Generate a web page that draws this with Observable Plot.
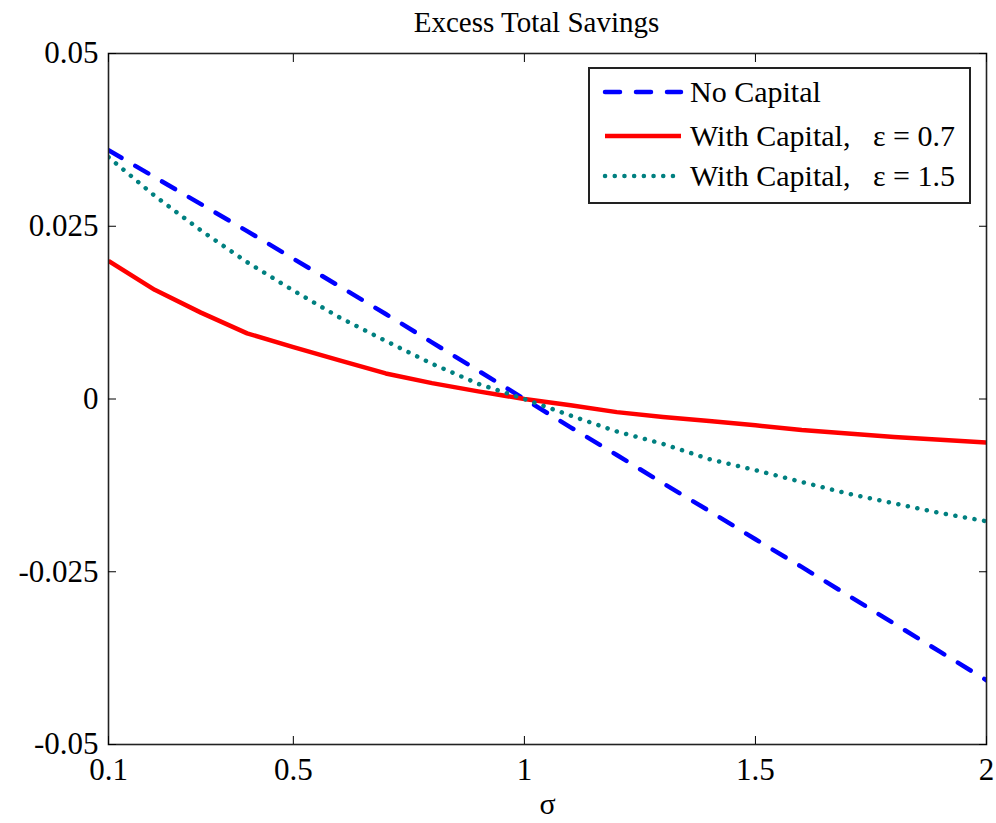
<!DOCTYPE html>
<html>
<head>
<meta charset="utf-8">
<script src="https://cdn.jsdelivr.net/npm/d3@7"></script>
<script src="https://cdn.jsdelivr.net/npm/@observablehq/plot@0.6"></script>
<style>
  body { margin: 0; background: #fff; }
  #wrap { position: relative; width: 996px; height: 823px; }
  #legend { position: absolute; left: 588px; top: 67px; width: 379px; height: 133px;
            border: 2px solid #222; background: #fff; font-family: "Liberation Serif", serif; font-size: 30px; }
  .row { position: absolute; left: 0; height: 40px; display: flex; align-items: center; white-space: pre; }
  .row span { color: #000; }
</style>
</head>
<body>
<div id="wrap"></div>
<script>
const title = "Excess Total Savings";
const xLabel = "σ";
const sigma = [0.1, 0.2, 0.3, 0.4, 0.5, 0.6, 0.7, 0.8, 0.9, 1.0, 1.1, 1.2, 1.3, 1.4, 1.5, 1.6, 1.7, 1.8, 1.9, 2.0];
const noCapital = [0.036, 0.0321, 0.0282, 0.0243, 0.0203, 0.0163, 0.0123, 0.0082, 0.0041, 0, -0.0041, -0.0081, -0.0122, -0.0162, -0.0203, -0.0243, -0.0284, -0.0325, -0.0366, -0.0407];
const withCap07 = [0.020, 0.0158, 0.0125, 0.0095, 0.0075, 0.0056, 0.0037, 0.0023, 0.0011, 0, -0.0009, -0.0019, -0.0026, -0.0032, -0.0038, -0.0045, -0.0050, -0.0055, -0.0059, -0.0063];
const withCap15 = [0.035, 0.0294, 0.0244, 0.0198, 0.0157, 0.0118, 0.0084, 0.0051, 0.0022, 0, -0.0024, -0.0047, -0.0065, -0.0087, -0.0103, -0.0120, -0.0137, -0.0151, -0.0165, -0.0177];
const seriesNames = ["No Capital", "With Capital,   ε = 0.7", "With Capital,   ε = 1.5"];
const xTicks = [0.1, 0.5, 1, 1.5, 2];
const yTicks = [-0.05, -0.025, 0, 0.025, 0.05];

const styles = [
  {stroke: "#0000ff", strokeWidth: 4.5, strokeDasharray: "15,16", strokeLinecap: "round"},
  {stroke: "#ff0000", strokeWidth: 4.5, strokeDasharray: null, strokeLinecap: "butt"},
  {stroke: "#008080", strokeWidth: 4.5, strokeDasharray: "0.1,9.6", strokeLinecap: "round"}
];
const seriesValues = [noCapital, withCap07, withCap15];
const rows = seriesValues.map((vals, i) => sigma.map((s, j) => ({sigma: s, value: vals[j], series: seriesNames[i]})));

const lineMarks = rows.map((data, i) => Plot.line(data, {x: "sigma", y: "value", ...styles[i], clip: true}));

const chart = Plot.plot({
  width: 996,
  height: 823,
  marginLeft: 108,
  marginRight: 10,
  marginTop: 53,
  marginBottom: 79,
  style: {fontFamily: "'Liberation Serif', serif", background: "#fff", color: "#000"},
  x: {domain: [0.1, 2], ticks: xTicks},
  y: {domain: [-0.05, 0.05], ticks: yTicks},
  marks: [
    ...lineMarks,
    Plot.frame({stroke: "#222", strokeWidth: 1.6}),
    Plot.axisX(xTicks, {anchor: "bottom", tickSize: 0, tickPadding: 13, fontSize: 31, tickFormat: d => String(d), label: null}),
    Plot.axisX(xTicks, {anchor: "bottom", tickSize: -8, tickFormat: () => "", label: null}),
    Plot.axisX(xTicks, {anchor: "top", tickSize: -8, tickFormat: () => "", label: null}),
    Plot.axisY(yTicks, {anchor: "left", tickSize: 0, tickPadding: 10, fontSize: 31, tickFormat: d => String(d), label: null}),
    Plot.axisY(yTicks, {anchor: "left", tickSize: -8, tickFormat: () => "", label: null}),
    Plot.axisY(yTicks, {anchor: "right", tickSize: -8, tickFormat: () => "", label: null}),
    Plot.text([title], {frameAnchor: "top", lineAnchor: "middle", dy: -31, dx: -11, fontSize: 29, fill: "#000"}),
    Plot.text([xLabel], {frameAnchor: "bottom", lineAnchor: "middle", dy: 60, fontSize: 30, fill: "#000"})
  ]
});

const wrap = document.getElementById("wrap");
wrap.appendChild(chart);

// Legend overlay
const legend = d3.select(wrap).append("div").attr("id", "legend");
const rowTops = [3, 47, 87];
seriesNames.forEach((name, i) => {
  const row = legend.append("div").attr("class", "row").style("top", rowTops[i] + "px");
  const svg = row.append("svg").attr("width", 100).attr("height", 40);
  const st = styles[i];
  svg.append("line")
    .attr("x1", 15).attr("x2", 91).attr("y1", 20).attr("y2", 20)
    .attr("stroke", st.stroke).attr("stroke-width", st.strokeWidth)
    .attr("stroke-dasharray", st.strokeDasharray)
    .attr("stroke-linecap", st.strokeLinecap);
  row.append("span").text(name);
});
</script>
</body>
</html>
